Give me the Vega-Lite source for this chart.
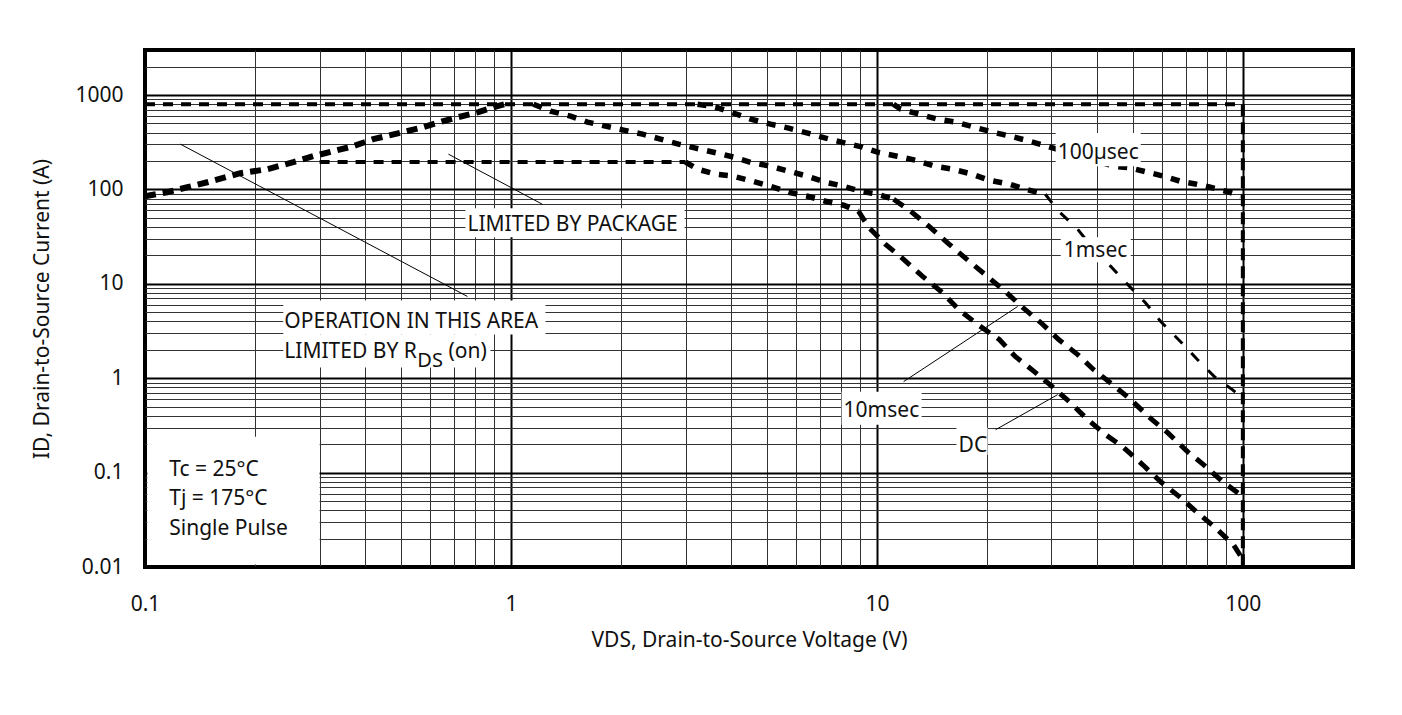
{
  "$schema": "https://vega.github.io/schema/vega-lite/v6.json",
  "width": 1208,
  "height": 517,
  "autosize": {"type": "none"},
  "padding": {"left": 145, "top": 50, "right": 49, "bottom": 148},
  "background": "white",
  "config": {
    "view": {"stroke": "black", "strokeWidth": 4},
    "font": "Noto Sans",
    "axis": {
      "labelFont": "Noto Sans", "labelFontSize": 21, "labelColor": "#111",
      "titleFont": "Noto Sans", "titleFontSize": 21, "titleFontWeight": "normal", "titleColor": "#111",
      "domain": false, "ticks": false, "tickSize": 0,
      "gridColor": "#222", "gridOpacity": 1,
      "labelOverlap": false, "labelBound": false, "labelFlush": false
    },
    "text": {"font": "Noto Sans", "fontSize": 21, "color": "#111"}
  },
  "datasets": {
    "curves": [
      {"curve": "Current limit", "seg": "limit", "x": 0.1, "y": 800},
      {"curve": "Current limit", "seg": "limit", "x": 100, "y": 800},
      {"curve": "Package limit", "seg": "limit", "x": 0.3, "y": 195},
      {"curve": "Package limit", "seg": "limit", "x": 3.0, "y": 195},
      {"curve": "BVDSS", "seg": "bv", "x": 100, "y": 800},
      {"curve": "BVDSS", "seg": "bv", "x": 100, "y": 0.01},
      {"curve": "RDS(on)", "seg": "rds", "x": 0.1, "y": 84.7},
      {"curve": "RDS(on)", "seg": "rds", "x": 0.1151, "y": 93.4},
      {"curve": "RDS(on)", "seg": "rds", "x": 0.1305, "y": 105.5},
      {"curve": "RDS(on)", "seg": "rds", "x": 0.148, "y": 119.2},
      {"curve": "RDS(on)", "seg": "rds", "x": 0.1822, "y": 148.6},
      {"curve": "RDS(on)", "seg": "rds", "x": 0.2159, "y": 163.9},
      {"curve": "RDS(on)", "seg": "rds", "x": 0.2543, "y": 194.4},
      {"curve": "RDS(on)", "seg": "rds", "x": 0.2884, "y": 225.1},
      {"curve": "RDS(on)", "seg": "rds", "x": 0.3272, "y": 254.4},
      {"curve": "RDS(on)", "seg": "rds", "x": 0.371, "y": 287.4},
      {"curve": "RDS(on)", "seg": "rds", "x": 0.4207, "y": 341.2},
      {"curve": "RDS(on)", "seg": "rds", "x": 0.4685, "y": 376.2},
      {"curve": "RDS(on)", "seg": "rds", "x": 0.5765, "y": 457.5},
      {"curve": "RDS(on)", "seg": "rds", "x": 0.6537, "y": 529.7},
      {"curve": "RDS(on)", "seg": "rds", "x": 0.7188, "y": 584.2},
      {"curve": "RDS(on)", "seg": "rds", "x": 0.815, "y": 659.9},
      {"curve": "RDS(on)", "seg": "rds", "x": 0.9186, "y": 764.3},
      {"curve": "RDS(on)", "seg": "rds", "x": 0.96, "y": 800},
      {"curve": "100µsec", "seg": "flat", "x": 11.1, "y": 800},
      {"curve": "100µsec", "seg": "flat", "x": 11.6, "y": 710},
      {"curve": "100µsec", "seg": "flat", "x": 13.05, "y": 628},
      {"curve": "100µsec", "seg": "flat", "x": 14.6, "y": 556},
      {"curve": "100µsec", "seg": "flat", "x": 16.4, "y": 517},
      {"curve": "100µsec", "seg": "flat", "x": 18.45, "y": 457},
      {"curve": "100µsec", "seg": "flat", "x": 20.7, "y": 405},
      {"curve": "100µsec", "seg": "flat", "x": 23.15, "y": 367},
      {"curve": "100µsec", "seg": "flat", "x": 26.1, "y": 325},
      {"curve": "100µsec", "seg": "flat", "x": 29.2, "y": 287},
      {"curve": "100µsec", "seg": "flat", "x": 44.4, "y": 176},
      {"curve": "100µsec", "seg": "flat", "x": 48.8, "y": 170},
      {"curve": "100µsec", "seg": "flat", "x": 55.0, "y": 152},
      {"curve": "100µsec", "seg": "flat", "x": 60.8, "y": 138},
      {"curve": "100µsec", "seg": "flat", "x": 67.5, "y": 122},
      {"curve": "100µsec", "seg": "flat", "x": 74.2, "y": 114},
      {"curve": "100µsec", "seg": "flat", "x": 81.5, "y": 105.5},
      {"curve": "100µsec", "seg": "flat", "x": 91.9, "y": 93.4},
      {"curve": "100µsec", "seg": "flat", "x": 98.7, "y": 85},
      {"curve": "1msec", "seg": "flat", "x": 3.235, "y": 800},
      {"curve": "1msec", "seg": "flat", "x": 3.62, "y": 746},
      {"curve": "1msec", "seg": "flat", "x": 3.98, "y": 660},
      {"curve": "1msec", "seg": "flat", "x": 4.52, "y": 556},
      {"curve": "1msec", "seg": "flat", "x": 5.12, "y": 492},
      {"curve": "1msec", "seg": "flat", "x": 5.74, "y": 446},
      {"curve": "1msec", "seg": "flat", "x": 6.47, "y": 395},
      {"curve": "1msec", "seg": "flat", "x": 7.24, "y": 350},
      {"curve": "1msec", "seg": "flat", "x": 8.22, "y": 309},
      {"curve": "1msec", "seg": "flat", "x": 9.14, "y": 281},
      {"curve": "1msec", "seg": "flat", "x": 10.04, "y": 248},
      {"curve": "1msec", "seg": "flat", "x": 11.36, "y": 225},
      {"curve": "1msec", "seg": "flat", "x": 12.73, "y": 204},
      {"curve": "1msec", "seg": "flat", "x": 14.43, "y": 176},
      {"curve": "1msec", "seg": "flat", "x": 16.07, "y": 164},
      {"curve": "1msec", "seg": "flat", "x": 18.23, "y": 145},
      {"curve": "1msec", "seg": "flat", "x": 20.28, "y": 125},
      {"curve": "1msec", "seg": "flat", "x": 23.0, "y": 114},
      {"curve": "1msec", "seg": "flat", "x": 25.44, "y": 100.5},
      {"curve": "1msec", "seg": "flat", "x": 28.85, "y": 88.9},
      {"curve": "1msec", "seg": "fall", "x": 28.85, "y": 88.9},
      {"curve": "1msec", "seg": "fall", "x": 31.39, "y": 58.7},
      {"curve": "1msec", "seg": "fall", "x": 35.38, "y": 37.8},
      {"curve": "1msec", "seg": "fall", "x": 39.1, "y": 23.2},
      {"curve": "1msec", "seg": "fall", "x": 43.55, "y": 15.3},
      {"curve": "1msec", "seg": "fall", "x": 48.45, "y": 9.85},
      {"curve": "1msec", "seg": "fall", "x": 54.1, "y": 6.35},
      {"curve": "1msec", "seg": "fall", "x": 59.65, "y": 3.99},
      {"curve": "1msec", "seg": "fall", "x": 67.5, "y": 2.45},
      {"curve": "1msec", "seg": "fall", "x": 75.1, "y": 1.58},
      {"curve": "1msec", "seg": "fall", "x": 83.6, "y": 1.04},
      {"curve": "1msec", "seg": "fall", "x": 93.6, "y": 0.757},
      {"curve": "1msec", "seg": "fall", "x": 98.7, "y": 0.64},
      {"curve": "10msec", "seg": "flat", "x": 1.152, "y": 800},
      {"curve": "10msec", "seg": "flat", "x": 1.282, "y": 676},
      {"curve": "10msec", "seg": "flat", "x": 1.455, "y": 599},
      {"curve": "10msec", "seg": "flat", "x": 1.619, "y": 517},
      {"curve": "10msec", "seg": "flat", "x": 1.813, "y": 469},
      {"curve": "10msec", "seg": "flat", "x": 2.03, "y": 425},
      {"curve": "10msec", "seg": "flat", "x": 2.288, "y": 386},
      {"curve": "10msec", "seg": "flat", "x": 2.563, "y": 341},
      {"curve": "10msec", "seg": "flat", "x": 2.871, "y": 302},
      {"curve": "10msec", "seg": "flat", "x": 3.195, "y": 274},
      {"curve": "10msec", "seg": "flat", "x": 3.578, "y": 248},
      {"curve": "10msec", "seg": "flat", "x": 4.058, "y": 220},
      {"curve": "10msec", "seg": "flat", "x": 4.515, "y": 194},
      {"curve": "10msec", "seg": "flat", "x": 5.122, "y": 176},
      {"curve": "10msec", "seg": "flat", "x": 5.736, "y": 156},
      {"curve": "10msec", "seg": "flat", "x": 6.465, "y": 138},
      {"curve": "10msec", "seg": "flat", "x": 7.243, "y": 119},
      {"curve": "10msec", "seg": "flat", "x": 8.11, "y": 108},
      {"curve": "10msec", "seg": "flat", "x": 9.025, "y": 95.7},
      {"curve": "10msec", "seg": "flat", "x": 10.04, "y": 88.9},
      {"curve": "10msec", "seg": "flat", "x": 11.11, "y": 78.7},
      {"curve": "10msec", "seg": "fall", "x": 11.11, "y": 78.7},
      {"curve": "10msec", "seg": "fall", "x": 12.37, "y": 58.7},
      {"curve": "10msec", "seg": "fall", "x": 13.99, "y": 39.7},
      {"curve": "10msec", "seg": "fall", "x": 15.77, "y": 26.2},
      {"curve": "10msec", "seg": "fall", "x": 17.88, "y": 17.3},
      {"curve": "10msec", "seg": "fall", "x": 20.03, "y": 12.0},
      {"curve": "10msec", "seg": "fall", "x": 22.43, "y": 8.31},
      {"curve": "10msec", "seg": "fall", "x": 25.02, "y": 5.62},
      {"curve": "10msec", "seg": "fall", "x": 28.03, "y": 3.89},
      {"curve": "10msec", "seg": "fall", "x": 31.39, "y": 2.57},
      {"curve": "10msec", "seg": "fall", "x": 35.38, "y": 1.78},
      {"curve": "10msec", "seg": "fall", "x": 39.12, "y": 1.23},
      {"curve": "10msec", "seg": "fall", "x": 44.1, "y": 0.855},
      {"curve": "10msec", "seg": "fall", "x": 49.4, "y": 0.593},
      {"curve": "10msec", "seg": "fall", "x": 55.3, "y": 0.391},
      {"curve": "10msec", "seg": "fall", "x": 62.3, "y": 0.265},
      {"curve": "10msec", "seg": "fall", "x": 70.7, "y": 0.166},
      {"curve": "10msec", "seg": "fall", "x": 78.2, "y": 0.121},
      {"curve": "10msec", "seg": "fall", "x": 88.1, "y": 0.080},
      {"curve": "10msec", "seg": "fall", "x": 98.7, "y": 0.058},
      {"curve": "DC", "seg": "flat", "x": 3.0, "y": 195},
      {"curve": "DC", "seg": "flat", "x": 3.235, "y": 164},
      {"curve": "DC", "seg": "flat", "x": 3.623, "y": 145},
      {"curve": "DC", "seg": "flat", "x": 4.058, "y": 138},
      {"curve": "DC", "seg": "flat", "x": 4.573, "y": 122},
      {"curve": "DC", "seg": "flat", "x": 5.122, "y": 108},
      {"curve": "DC", "seg": "flat", "x": 5.736, "y": 93.4},
      {"curve": "DC", "seg": "flat", "x": 6.465, "y": 84.7},
      {"curve": "DC", "seg": "flat", "x": 7.243, "y": 74.9},
      {"curve": "DC", "seg": "flat", "x": 8.11, "y": 68},
      {"curve": "DC", "seg": "flat", "x": 8.91, "y": 58.7},
      {"curve": "DC", "seg": "fall", "x": 8.91, "y": 58.7},
      {"curve": "DC", "seg": "fall", "x": 9.49, "y": 39.7},
      {"curve": "DC", "seg": "fall", "x": 10.56, "y": 26.2},
      {"curve": "DC", "seg": "fall", "x": 11.83, "y": 18.2},
      {"curve": "DC", "seg": "fall", "x": 13.33, "y": 12.0},
      {"curve": "DC", "seg": "fall", "x": 15.09, "y": 8.1},
      {"curve": "DC", "seg": "fall", "x": 16.72, "y": 5.35},
      {"curve": "DC", "seg": "fall", "x": 18.85, "y": 3.71},
      {"curve": "DC", "seg": "fall", "x": 21.6, "y": 2.57},
      {"curve": "DC", "seg": "fall", "x": 23.88, "y": 1.70},
      {"curve": "DC", "seg": "fall", "x": 26.92, "y": 1.175},
      {"curve": "DC", "seg": "fall", "x": 30.15, "y": 0.814},
      {"curve": "DC", "seg": "fall", "x": 33.78, "y": 0.551},
      {"curve": "DC", "seg": "fall", "x": 37.67, "y": 0.364},
      {"curve": "DC", "seg": "fall", "x": 42.19, "y": 0.252},
      {"curve": "DC", "seg": "fall", "x": 46.96, "y": 0.188},
      {"curve": "DC", "seg": "fall", "x": 53.27, "y": 0.121},
      {"curve": "DC", "seg": "fall", "x": 59.65, "y": 0.080},
      {"curve": "DC", "seg": "fall", "x": 67.67, "y": 0.054},
      {"curve": "DC", "seg": "fall", "x": 75.3, "y": 0.0374},
      {"curve": "DC", "seg": "fall", "x": 84.3, "y": 0.0259},
      {"curve": "DC", "seg": "fall", "x": 94.4, "y": 0.0171},
      {"curve": "DC", "seg": "fall", "x": 98.7, "y": 0.013}
    ],
    "boxes": [
      {"box": "conditions", "x": 0.1015, "x2": 0.3, "y": 0.0106, "y2": 0.24},
      {"box": "package", "x": 0.751, "x2": 2.98, "y": 31.1, "y2": 63.2},
      {"box": "operation1", "x": 0.2387, "x2": 1.2426, "y": 2.9, "y2": 6.66},
      {"box": "operation2", "x": 0.2387, "x2": 0.879, "y": 1.296, "y2": 2.9},
      {"box": "100µsec", "x": 30.8, "x2": 52.6, "y": 176.3, "y2": 395},
      {"box": "1msec", "x": 31.8, "x2": 49.4, "y": 16.9, "y2": 31.1},
      {"box": "10msec", "x": 8.01, "x2": 13.25, "y": 0.3217, "y2": 0.7206},
      {"box": "DC", "x": 16.5, "x2": 20.07, "y": 0.1545, "y2": 0.299}
    ],
    "leaders": [
      {"to": "RDS(on)", "x": 0.1249, "y": 301.9, "x2": 0.7605, "y2": 7.35},
      {"to": "Package", "x": 0.6747, "y": 236.4, "x2": 1.219, "y2": 69.6},
      {"to": "10msec", "x": 11.83, "y": 0.92, "x2": 24.25, "y2": 5.755},
      {"to": "DC", "x": 21.11, "y": 0.2847, "x2": 31.19, "y2": 0.6697}
    ],
    "labels": [
      {"text": "LIMITED BY PACKAGE", "role": "main", "x": 0.7605, "y": 36.0},
      {"text": "OPERATION IN THIS AREA", "role": "main", "x": 0.2403, "y": 3.445},
      {"text": "LIMITED BY R", "role": "main", "x": 0.2403, "y": 1.654},
      {"text": "DS", "role": "sub", "x": 0.555, "y": 1.328},
      {"text": "(on)", "role": "main", "x": 0.6747, "y": 1.654},
      {"text": "100µsec", "role": "main", "x": 31.19, "y": 209.2},
      {"text": "1msec", "role": "main", "x": 32.4, "y": 19.06},
      {"text": "10msec", "role": "main", "x": 8.11, "y": 0.3913},
      {"text": "DC", "role": "main", "x": 16.72, "y": 0.1663},
      {"text": "Tc = 25°C", "role": "main", "x": 0.1165, "y": 0.0925},
      {"text": "Tj = 175°C", "role": "main", "x": 0.1165, "y": 0.0455},
      {"text": "Single Pulse", "role": "main", "x": 0.1165, "y": 0.02186}
    ]
  },
  "encoding": {
    "x": {
      "field": "x", "type": "quantitative",
      "scale": {"type": "log", "domain": [0.1, 200], "nice": false},
      "axis": {
        "title": "VDS, Drain-to-Source Voltage (V)",
        "values": [0.1, 0.2, 0.3, 0.4, 0.5, 0.6, 0.7, 0.8, 0.9, 1, 2, 3, 4, 5, 6, 7, 8, 9, 10, 20, 30, 40, 50, 60, 70, 80, 90, 100],
        "format": "~g",
        "labelExpr": "indexof([0.1, 1, 10, 100], datum.value) >= 0 ? datum.label : ''",
        "labelPadding": 26,
        "titlePadding": 15,
        "gridWidth": {"condition": {"test": "indexof([0.1, 1, 10, 100], datum.value) >= 0", "value": 2}, "value": 1},
        "gridColor": {"condition": {"test": "indexof([0.1, 1, 10, 100], datum.value) >= 0", "value": "#000"}, "value": "#333"}
      }
    },
    "y": {
      "field": "y", "type": "quantitative",
      "scale": {"type": "log", "domain": [0.01, 3000], "nice": false},
      "axis": {
        "title": "ID, Drain-to-Source Current (A)",
        "values": [0.01, 0.02, 0.03, 0.04, 0.05, 0.06, 0.07, 0.08, 0.09, 0.1, 0.2, 0.3, 0.4, 0.5, 0.6, 0.7, 0.8, 0.9, 1, 2, 3, 4, 5, 6, 7, 8, 9, 10, 20, 30, 40, 50, 60, 70, 80, 90, 100, 200, 300, 400, 500, 600, 700, 800, 900, 1000, 2000],
        "format": "~g",
        "labelExpr": "indexof([0.01, 0.1, 1, 10, 100, 1000], datum.value) >= 0 ? datum.label : ''",
        "labelPadding": 22,
        "titlePadding": 22,
        "gridWidth": {"condition": {"test": "indexof([0.01, 0.1, 1, 10, 100, 1000], datum.value) >= 0", "value": 2}, "value": 1},
        "gridColor": {"condition": {"test": "indexof([0.01, 0.1, 1, 10, 100, 1000], datum.value) >= 0", "value": "#000"}, "value": "#333"}
      }
    }
  },
  "layer": [
    {
      "data": {"name": "curves"},
      "transform": [{"filter": "datum.seg == 'limit'"}],
      "mark": {"type": "line", "color": "black", "strokeWidth": 4, "strokeDash": [10, 8], "strokeCap": "butt"},
      "encoding": {"detail": {"field": "curve"}}
    },
    {
      "data": {"name": "curves"},
      "transform": [{"filter": "datum.seg == 'bv'"}],
      "mark": {"type": "line", "color": "black", "strokeWidth": 4, "strokeDash": [12, 6], "strokeCap": "butt"},
      "encoding": {"detail": {"field": "curve"}, "order": {"field": "y", "sort": "descending"}}
    },
    {
      "data": {"name": "curves"},
      "transform": [{"filter": "datum.seg == 'rds'"}],
      "mark": {"type": "line", "color": "black", "strokeWidth": 6, "strokeDash": [11, 7], "strokeCap": "butt"},
      "encoding": {"detail": {"field": "curve"}}
    },
    {
      "data": {"name": "curves"},
      "transform": [{"filter": "datum.seg == 'flat'"}],
      "mark": {"type": "line", "color": "black", "strokeWidth": 5.5, "strokeDash": [9, 9], "strokeCap": "butt"},
      "encoding": {"detail": {"field": "curve"}}
    },
    {
      "data": {"name": "curves"},
      "transform": [{"filter": "datum.seg == 'fall' && datum.curve != '1msec'"}],
      "mark": {"type": "line", "color": "black", "strokeWidth": 5, "strokeDash": [12, 9], "strokeCap": "butt"},
      "encoding": {"detail": {"field": "curve"}}
    },
    {
      "data": {"name": "curves"},
      "transform": [{"filter": "datum.seg == 'fall' && datum.curve == '1msec'"}],
      "mark": {"type": "line", "color": "black", "strokeWidth": 3, "strokeDash": [11, 13], "strokeCap": "butt"},
      "encoding": {"detail": {"field": "curve"}}
    },
    {
      "data": {"name": "leaders"},
      "mark": {"type": "rule", "color": "black", "strokeWidth": 1},
      "encoding": {"x2": {"field": "x2"}, "y2": {"field": "y2"}}
    },
    {
      "data": {"name": "boxes"},
      "mark": {"type": "rect", "fill": "white", "strokeWidth": 0},
      "encoding": {"x2": {"field": "x2"}, "y2": {"field": "y2"}}
    },
    {
      "data": {"name": "labels"},
      "transform": [{"filter": "datum.role == 'main'"}],
      "mark": {"type": "text", "align": "left", "baseline": "alphabetic", "fontSize": 21, "font": "Noto Sans", "color": "#111"},
      "encoding": {"text": {"field": "text"}}
    },
    {
      "data": {"name": "labels"},
      "transform": [{"filter": "datum.role == 'sub'"}],
      "mark": {"type": "text", "align": "left", "baseline": "alphabetic", "fontSize": 20, "font": "Noto Sans", "color": "#111"},
      "encoding": {"text": {"field": "text"}}
    }
  ]
}
